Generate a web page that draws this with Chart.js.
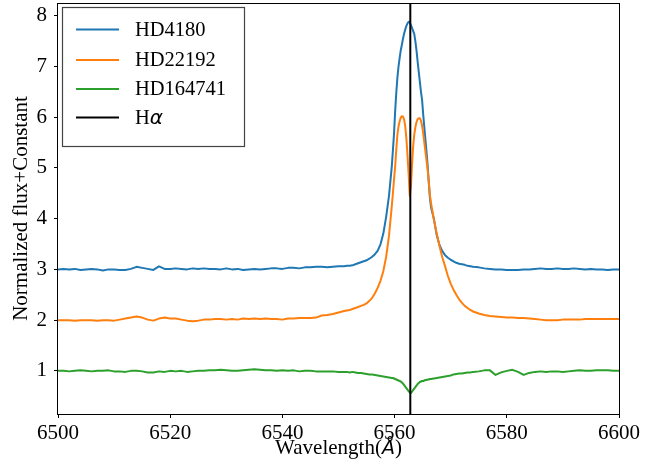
<!DOCTYPE html>
<html>
<head>
<meta charset="utf-8">
<script src="https://cdn.jsdelivr.net/npm/chart.js@4.4.1/dist/chart.umd.min.js"></script>
<style>
html,body{margin:0;padding:0;background:#fff;}
#wrap{width:664px;height:472px;}
</style>
</head>
<body>
<div id="wrap"><canvas id="c" width="664" height="472"></canvas></div>
<script>
// ---- data ----
const wavelength = [
6500,6501,6502,6503,6504,6505,6506,6507,6508,6509,6510,6511,6512,6513,6514,6515,6516,6517,6518,6519,6520,6521,6522,6523,6524,6525,6526,6527,6528,6529,6530,6531,6532,6533,6534,6535,6536,6537,6538,6539,6540,6541,6542,6543,6544,6545,6546,6547,6548,6549,6550,6551,
6551.5,6552,6552.5,6553,6553.5,6554,6554.5,6555,6555.5,6556,6556.5,6557,6557.5,6558,6558.5,6559,6559.5,
6559.7,6559.9,6560.1,6560.3,6560.5,6560.7,6560.9,6561.1,6561.3,6561.5,6561.7,6561.9,6562.1,6562.3,6562.5,6562.7,6562.9,6563.1,6563.3,6563.5,6563.7,6563.9,6564.1,6564.3,6564.5,6564.7,6564.9,6565.1,6565.3,6565.5,6565.7,6565.9,6566.1,6566.3,6566.5,
6567,6567.5,6568,6568.5,6569,6569.5,6570,6570.5,6571,6571.5,6572,6572.5,6573,6573.5,6574,
6575,6576,6577,6578,6579,6580,6581,6582,6583,6584,6585,6586,6587,6588,6589,6590,6591,6592,6593,6594,6595,6596,6597,6598,6599,6600
];
const fluxHD4180 = [
3.00,3.01,3.00,3.01,2.99,3.00,3.01,3.00,2.98,3.00,3.00,2.99,2.99,3.01,3.05,3.03,3.01,2.99,3.06,3.01,3.01,3.02,3.01,3.00,3.02,3.01,3.02,3.01,3.01,3.00,3.02,3.00,3.01,2.99,3.00,3.01,3.00,3.01,3.02,3.02,3.01,3.03,3.03,3.02,3.04,3.04,3.05,3.05,3.04,3.05,3.06,3.06,
3.07,3.07,3.08,3.10,3.12,3.14,3.16,3.18,3.21,3.25,3.30,3.37,3.50,3.71,4.04,4.45,5.03,
5.35,5.68,6.12,6.48,6.78,7.00,7.17,7.32,7.43,7.55,7.65,7.73,7.80,7.85,7.88,7.87,7.82,7.76,7.70,7.64,7.50,7.32,7.10,6.90,6.70,6.50,6.34,6.05,5.80,5.55,5.30,5.03,4.70,4.40,4.22,
4.00,3.68,3.48,3.36,3.28,3.23,3.19,3.16,3.13,3.11,3.10,3.09,3.07,3.06,3.05,
3.04,3.02,3.01,3.00,3.00,2.99,2.99,2.99,3.00,3.00,3.01,3.02,3.01,3.01,3.02,3.01,3.01,3.02,3.01,3.00,3.01,3.00,3.00,2.99,3.00,3.00
];
const fluxHD22192 = [
2.00,2.00,2.00,1.99,2.00,2.00,2.00,1.99,2.00,2.00,1.99,2.01,2.03,2.05,2.07,2.05,2.01,1.99,2.03,2.05,2.03,2.03,2.01,1.99,1.98,1.99,2.01,2.01,2.02,2.02,2.01,2.02,2.01,2.03,2.02,2.03,2.02,2.03,2.02,2.02,2.01,2.03,2.03,2.04,2.04,2.04,2.05,2.09,2.10,2.12,2.15,2.18,
2.19,2.20,2.22,2.24,2.26,2.28,2.30,2.33,2.38,2.44,2.53,2.64,2.78,2.97,3.25,3.66,4.25,
4.50,4.78,5.03,5.36,5.66,5.82,5.92,5.99,6.02,6.01,5.95,5.82,5.58,5.25,4.88,4.45,4.62,5.05,5.42,5.65,5.80,5.90,5.96,5.98,5.98,5.93,5.83,5.68,5.50,5.32,5.14,4.95,4.72,4.46,4.30,
3.98,3.71,3.46,3.24,3.06,2.87,2.72,2.60,2.50,2.41,2.34,2.28,2.24,2.20,2.17,
2.13,2.10,2.08,2.07,2.06,2.05,2.05,2.04,2.04,2.03,2.02,2.01,2.00,2.00,2.00,2.01,2.01,2.01,2.01,2.02,2.02,2.02,2.02,2.02,2.02,2.02
];
const fluxHD164741 = [
1.00,1.00,0.99,1.00,1.01,1.00,0.99,1.00,1.00,1.01,0.99,0.99,0.98,1.00,1.00,0.99,0.97,0.97,0.99,0.98,1.00,0.99,1.00,0.98,0.99,1.00,1.00,1.01,1.01,1.02,1.01,1.00,1.00,1.01,1.02,1.03,1.02,1.01,1.01,1.00,1.01,1.00,1.01,0.99,1.00,1.00,0.99,0.99,0.99,0.99,0.98,0.98,
0.98,0.97,0.98,0.97,0.96,0.96,0.95,0.94,0.93,0.93,0.92,0.91,0.90,0.89,0.88,0.87,0.86,
0.86,0.85,0.84,0.83,0.82,0.81,0.80,0.79,0.77,0.75,0.72,0.69,0.66,0.63,0.60,0.58,0.56,0.59,0.62,0.65,0.68,0.71,0.74,0.76,0.78,0.79,0.80,0.80,0.81,0.82,0.82,0.83,0.83,0.84,0.84,
0.85,0.86,0.87,0.88,0.89,0.90,0.91,0.93,0.94,0.95,0.95,0.96,0.97,0.97,0.98,
0.99,1.01,1.01,0.92,0.97,1.00,1.02,0.98,0.92,0.96,0.98,0.99,0.98,0.99,0.99,0.98,0.99,1.00,1.01,1.00,1.00,1.01,1.01,1.01,1.00,1.00
];
const halphaWavelength = 6562.8;
const xRange = [6500, 6600];
const yRange = [0.15, 8.25];
const xTicks = [6500, 6520, 6540, 6560, 6580, 6600];
const yTicks = [1, 2, 3, 4, 5, 6, 7, 8];
const seriesLabels = ['HD4180', 'HD22192', 'HD164741', 'Hα'];

// ---- chart ----
const SERIF = '"Liberation Serif", "Times New Roman", serif';
const toPts = (xs, ys) => xs.map((x, i) => ({x: x, y: ys[i]}));

const framePlugin = {
  id: 'frame',
  afterDatasetsDraw(chart) {
    const {ctx, chartArea: a} = chart;
    ctx.save();
    ctx.strokeStyle = '#000';
    ctx.lineWidth = 1;
    ctx.strokeRect(Math.round(a.left) - 0.5, Math.round(a.top) + 0.5, Math.round(a.right - a.left) + 1, Math.round(a.bottom - a.top));
    ctx.restore();
  }
};

const legendPlugin = {
  id: 'boxLegend',
  afterDraw(chart) {
    const {ctx} = chart;
    const bx = 62, by = 7, bw = 182, bh = 139;
    ctx.save();
    ctx.fillStyle = 'rgba(255,255,255,0.9)';
    ctx.fillRect(bx, by, bw, bh);
    ctx.strokeStyle = '#444';
    ctx.lineWidth = 1.2;
    ctx.strokeRect(bx + 0.5, by + 0.5, bw, bh);
    const rowY = [29.5, 60, 89, 117.5];
    chart.data.datasets.forEach((ds, i) => {
      const y = rowY[i];
      ctx.strokeStyle = ds.borderColor;
      ctx.lineWidth = 2;
      ctx.beginPath();
      ctx.moveTo(76, y);
      ctx.lineTo(119, y);
      ctx.stroke();
      ctx.fillStyle = '#000';
      ctx.textBaseline = 'middle';
      ctx.textAlign = 'left';
      let x = 135;
      for (const ch of ds.label) {
        if (ch === 'α') {
          ctx.font = 'oblique 20px "DejaVu Sans", sans-serif';
        } else {
          ctx.font = '20.5px ' + SERIF;
        }
        ctx.fillText(ch, x, y + 1);
        x += ctx.measureText(ch).width;
      }
    });
    ctx.restore();
  }
};

const xTitlePlugin = {
  id: 'xTitle',
  afterDraw(chart) {
    const {ctx, chartArea: a} = chart;
    const parts = [
      {t: 'Wavelength(', f: '21px ' + SERIF},
      {t: 'Å', f: 'oblique 19px "DejaVu Sans", sans-serif'},
      {t: ')', f: '21px ' + SERIF}
    ];
    ctx.save();
    let total = 0;
    parts.forEach(p => { ctx.font = p.f; p.w = ctx.measureText(p.t).width; total += p.w; });
    let x = (a.left + a.right) / 2 - total / 2;
    ctx.fillStyle = '#000';
    ctx.textBaseline = 'alphabetic';
    ctx.textAlign = 'left';
    parts.forEach(p => { ctx.font = p.f; ctx.fillText(p.t, x, 454); x += p.w; });
    ctx.restore();
  }
};

new Chart(document.getElementById('c'), {
  type: 'line',
  data: {
    datasets: [
      {label: seriesLabels[0], data: toPts(wavelength, fluxHD4180), borderColor: '#1f77b4', order: 4},
      {label: seriesLabels[1], data: toPts(wavelength, fluxHD22192), borderColor: '#ff7f0e', order: 3},
      {label: seriesLabels[2], data: toPts(wavelength, fluxHD164741), borderColor: '#2ca02c', order: 2},
      {label: seriesLabels[3], data: [{x: halphaWavelength, y: yRange[0]}, {x: halphaWavelength, y: yRange[1]}], borderColor: '#000000', order: 1}
    ]
  },
  options: {
    responsive: false,
    animation: false,
    events: [],
    layout: {padding: {top: 3, right: 45, left: 0, bottom: 0}},
    elements: {
      line: {borderWidth: 2, tension: 0, fill: false, borderCapStyle: 'butt', borderJoinStyle: 'round'},
      point: {radius: 0}
    },
    plugins: {legend: {display: false}, tooltip: {enabled: false}},
    scales: {
      x: {
        type: 'linear',
        min: xRange[0], max: xRange[1],
        afterBuildTicks: s => { s.ticks = xTicks.map(v => ({value: v})); },
        afterFit: s => { s.height = 58; s.paddingLeft = 0; s.paddingRight = 0; },
        grid: {display: true, drawOnChartArea: false, drawTicks: true, tickLength: 4, color: '#000', lineWidth: 1},
        border: {display: false},
        ticks: {color: '#000', font: {family: SERIF, size: 21}, padding: 3, maxRotation: 0, autoSkip: false, callback: v => String(v)}
      },
      y: {
        type: 'linear',
        min: yRange[0], max: yRange[1],
        afterBuildTicks: s => { s.ticks = yTicks.map(v => ({value: v})); },
        afterFit: s => { s.width = 58; s.paddingTop = 0; s.paddingBottom = 0; },
        grid: {display: true, drawOnChartArea: false, drawTicks: true, tickLength: 4, color: '#000', lineWidth: 1},
        border: {display: false},
        title: {display: true, text: 'Normalized flux+Constant', color: '#000', font: {family: SERIF, size: 21}, padding: {top: 9, bottom: 0}},
        ticks: {color: '#000', font: {family: SERIF, size: 21}, padding: 7, autoSkip: false, callback: v => String(v)}
      }
    }
  },
  plugins: [framePlugin, legendPlugin, xTitlePlugin]
});
</script>
</body>
</html>
